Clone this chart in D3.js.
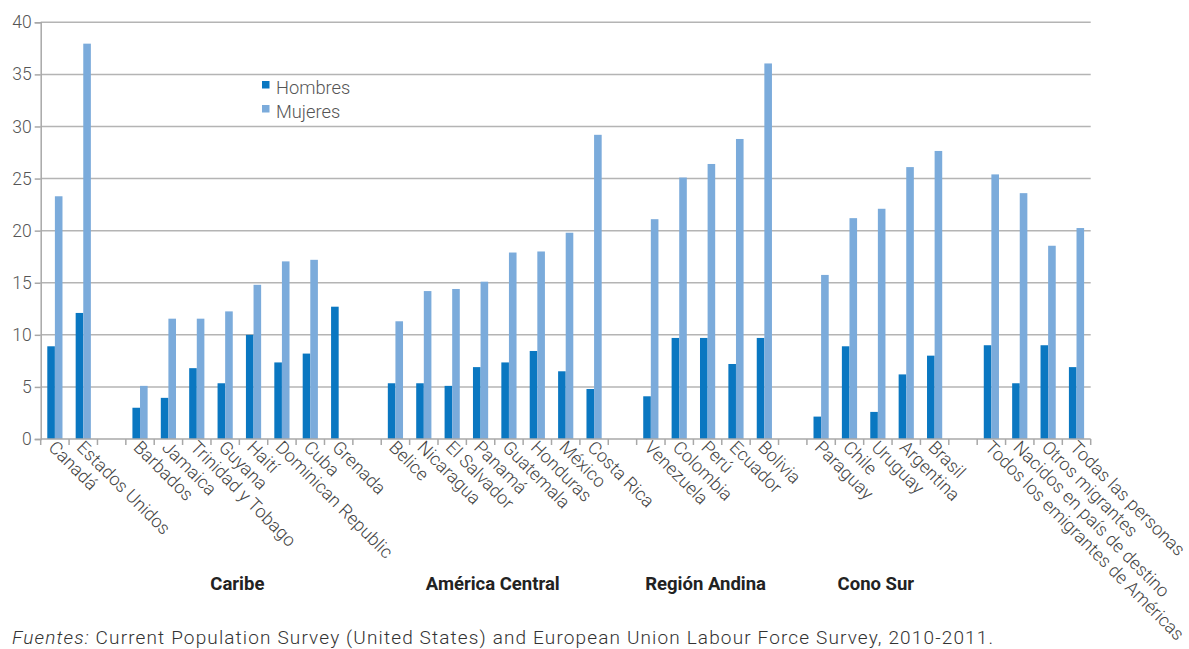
<!DOCTYPE html>
<html>
<head>
<meta charset="utf-8">
<script src="https://cdn.jsdelivr.net/npm/d3@7"></script>
<style>
  body { margin: 0; background: #fff; }
  svg { display: block; }
  text { font-family: Roboto, "Noto Sans", sans-serif; }
</style>
</head>
<body>
<svg id="chart" width="1189" height="649"></svg>
<script>
// Categories ("" = spacer slot between regions)
const categories = ["Canadá","Estados Unidos","",
  "Barbados","Jamaica","Trinidad y Tobago","Guyana","Haití","Dominican Republic","Cuba","Grenada","",
  "Belice","Nicaragua","El Salvador","Panamá","Guatemala","Honduras","México","Costa Rica","",
  "Venezuela","Colombia","Perú","Ecuador","Bolivia","",
  "Paraguay","Chile","Uruguay","Argentina","Brasil","",
  "Todos los emigrantes de Américas","Nacidos en país de destino","Otros migrantes","Todas las personas"];

const hombres = [8.9,12.1,null,
  3.0,3.95,6.8,5.35,10.0,7.35,8.2,12.7,null,
  5.35,5.35,5.1,6.9,7.35,8.45,6.5,4.8,null,
  4.1,9.7,9.7,7.2,9.7,null,
  2.15,8.9,2.6,6.2,8.0,null,
  9.0,5.35,9.0,6.9];

const mujeres = [23.3,37.95,null,
  5.1,11.55,11.55,12.25,14.8,17.05,17.2,null,null,
  11.3,14.2,14.4,15.1,17.9,18.0,19.8,29.2,null,
  21.1,25.1,26.4,28.8,36.05,null,
  15.75,21.2,22.1,26.1,27.65,null,
  25.4,23.6,18.55,20.25];

const seriesNames = ["Hombres","Mujeres"];
const seriesColors = ["#0a77c1","#7babdb"];
const yTicks = [0,5,10,15,20,25,30,35,40];

const regions = [
  {name:"Caribe", from:"Barbados", to:"Grenada"},
  {name:"América Central", from:"Belice", to:"Costa Rica"},
  {name:"Región Andina", from:"Venezuela", to:"Bolivia"},
  {name:"Cono Sur", from:"Paraguay", to:"Brasil"}
];

const svg = d3.select("#chart");
const mLeft = 40.7, mRight = 1090.7, mTop = 22.3, mBottom = 439;

const idx = categories.map((_, i) => i);
const x = d3.scaleBand().domain(idx).range([mLeft, mRight]).paddingInner(0).paddingOuter(0);
const y = d3.scaleLinear().domain([0, 40]).range([mBottom, mTop]);
const sub = d3.scaleBand().domain(seriesNames).range([0, 15.2]);

// gridlines
svg.append("g").selectAll("line").data(yTicks.filter(d => d > 0)).join("line")
  .attr("x1", mLeft).attr("x2", mRight)
  .attr("y1", d => y(d)).attr("y2", d => y(d))
  .attr("stroke", "#b4b4b4").attr("stroke-width", 1.5);

// y axis
const yAxis = svg.append("g").attr("transform", `translate(${mLeft},0)`)
  .call(d3.axisLeft(y).tickValues(yTicks).tickSize(6).tickPadding(3));
yAxis.select(".domain").attr("stroke", "#a8a8a8").attr("stroke-width", 1.5);
yAxis.selectAll(".tick line").attr("stroke", "#a8a8a8").attr("stroke-width", 1.5);
yAxis.selectAll("text").attr("font-size", 17.5).attr("fill", "#555").attr("font-weight", 300)
  .attr("font-family", "Roboto, sans-serif");

// bars
const data = [];
categories.forEach((c, i) => {
  if (hombres[i] != null) data.push({i, s: "Hombres", v: hombres[i]});
  if (mujeres[i] != null) data.push({i, s: "Mujeres", v: mujeres[i]});
});
svg.append("g").selectAll("rect").data(data).join("rect")
  .attr("x", d => x(d.i) + x.bandwidth()/2 - 7.6 + sub(d.s))
  .attr("width", sub.bandwidth())
  .attr("y", d => y(d.v))
  .attr("height", d => y(0) - y(d.v))
  .attr("fill", d => seriesColors[seriesNames.indexOf(d.s)]);

// x axis with ticks at slot boundaries
const xAxisG = svg.append("g");
xAxisG.append("line").attr("x1", mLeft).attr("x2", mRight).attr("y1", mBottom).attr("y2", mBottom)
  .attr("stroke", "#a8a8a8").attr("stroke-width", 1.5);
const bounds = idx.map(i => x(i)).concat([mRight]);
xAxisG.selectAll("line.tk").data(bounds).join("line").attr("class", "tk")
  .attr("x1", d => d).attr("x2", d => d).attr("y1", mBottom).attr("y2", mBottom + 6)
  .attr("stroke", "#a8a8a8").attr("stroke-width", 1.5);

// category labels
svg.append("g").selectAll("text").data(idx.filter(i => categories[i] !== "")).join("text")
  .attr("transform", i => `translate(${x(i) + x.bandwidth()/2 - 3},${mBottom + 5}) rotate(45)`)
  .attr("dy", "0.35em")
  .attr("font-size", 18).attr("font-weight", 300).attr("fill", "#444")
  .text(i => categories[i]);

// region labels
svg.append("g").selectAll("text").data(regions).join("text")
  .attr("x", r => (x(categories.indexOf(r.from)) + x(categories.indexOf(r.to)) + x.bandwidth()) / 2 - 2)
  .attr("y", 590)
  .attr("text-anchor", "middle")
  .attr("font-size", 18.5).attr("font-weight", 700).attr("fill", "#222")
  .text(r => r.name);

// legend
const lg = svg.append("g").attr("transform", "translate(262,81)");
seriesNames.forEach((s, k) => {
  lg.append("rect").attr("x", 0).attr("y", k * 24).attr("width", 7.5).attr("height", 7.5)
    .attr("fill", seriesColors[k]);
  lg.append("text").attr("x", 14).attr("y", k * 24 + 12.5)
    .attr("font-size", 18.3).attr("font-weight", 300).attr("fill", "#555").text(s);
});

// footnote
const fn = svg.append("text").attr("x", 12).attr("y", 644)
  .attr("font-size", 19).attr("font-weight", 300).attr("fill", "#333")
  .attr("textLength", 981).attr("lengthAdjust", "spacing");
fn.append("tspan").attr("font-style", "italic").text("Fuentes:");
fn.append("tspan").text(" Current Population Survey (United States) and European Union Labour Force Survey, 2010-2011.");
</script>
</body>
</html>
